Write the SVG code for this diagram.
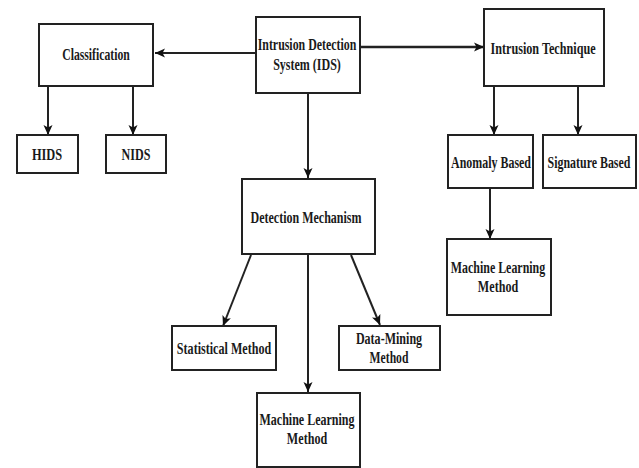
<svg xmlns="http://www.w3.org/2000/svg" width="639" height="468" viewBox="0 0 639 468">
<style>
.box{fill:#fff;stroke:#222;stroke-width:2}
.t{font-family:"Liberation Serif","Times New Roman",serif;font-weight:bold;font-size:17px;fill:#1a1a1a;text-anchor:middle;dominant-baseline:central}
.c{stroke:#222;stroke-width:2;fill:none;marker-end:url(#ah)}
</style>
<defs>
<marker id="ah" markerUnits="userSpaceOnUse" markerWidth="10" markerHeight="10" viewBox="0 0 10 10" refX="10" refY="5" orient="auto">
<path d="M0,0.5 L10,5 L0,9.5 L2.5,5 Z" fill="#111"/>
</marker>
</defs>
<rect width="639" height="468" fill="#fff"/>
<g id="connectors">
<line class="c" x1="256" y1="53" x2="155" y2="53"/>
<line class="c" x1="360" y1="47" x2="484" y2="47" style="stroke-width:2.6"/>
<line class="c" x1="48" y1="86" x2="48" y2="135"/>
<line class="c" x1="133" y1="86" x2="133" y2="135"/>
<line class="c" x1="308" y1="93" x2="308" y2="178"/>
<line class="c" x1="494" y1="86" x2="494" y2="135"/>
<line class="c" x1="578" y1="86" x2="578" y2="135"/>
<line class="c" x1="490" y1="188" x2="490" y2="239"/>
<line class="c" x1="251" y1="255" x2="223" y2="326"/>
<line class="c" x1="308" y1="255" x2="308" y2="392"/>
<line class="c" x1="351" y1="255" x2="380" y2="325"/>
</g>
<g id="ids">
<rect class="box" x="256" y="17" width="104" height="76"/>
<text class="t" transform="translate(307 44) scale(0.72 1)" textLength="137" lengthAdjust="spacingAndGlyphs">Intrusion Detection</text>
<text class="t" transform="translate(307 64) scale(0.72 1)" textLength="94" lengthAdjust="spacingAndGlyphs">System (IDS)</text>
</g>
<g id="classification">
<rect class="box" x="39" y="24" width="114" height="62"/>
<text class="t" transform="translate(96 54) scale(0.72 1)" textLength="94" lengthAdjust="spacingAndGlyphs">Classification</text>
</g>
<g id="hids">
<rect class="box" x="17" y="135" width="61" height="38"/>
<text class="t" transform="translate(47 154) scale(0.72 1)" textLength="42" lengthAdjust="spacingAndGlyphs">HIDS</text>
</g>
<g id="nids">
<rect class="box" x="106" y="135" width="60" height="38"/>
<text class="t" transform="translate(136 154) scale(0.72 1)" textLength="40" lengthAdjust="spacingAndGlyphs">NIDS</text>
</g>
<g id="technique">
<rect class="box" x="484" y="9" width="120" height="77"/>
<text class="t" transform="translate(543 48) scale(0.72 1)" textLength="146" lengthAdjust="spacingAndGlyphs">Intrusion Technique</text>
</g>
<g id="anomaly">
<rect class="box" x="448" y="135" width="85" height="53"/>
<text class="t" transform="translate(491 162) scale(0.72 1)" textLength="111" lengthAdjust="spacingAndGlyphs">Anomaly Based</text>
</g>
<g id="signature">
<rect class="box" x="543" y="135" width="93" height="53"/>
<text class="t" transform="translate(589 162) scale(0.72 1)" textLength="115" lengthAdjust="spacingAndGlyphs">Signature Based</text>
</g>
<g id="ml-anomaly">
<rect class="box" x="447" y="239" width="104" height="76"/>
<text class="t" transform="translate(498 267) scale(0.72 1)" textLength="131" lengthAdjust="spacingAndGlyphs">Machine Learning</text>
<text class="t" transform="translate(498 286) scale(0.72 1)" textLength="56" lengthAdjust="spacingAndGlyphs">Method</text>
</g>
<g id="detection">
<rect class="box" x="242" y="179" width="133" height="75"/>
<text class="t" transform="translate(306 217) scale(0.72 1)" textLength="154" lengthAdjust="spacingAndGlyphs">Detection Mechanism</text>
</g>
<g id="statistical">
<rect class="box" x="172" y="326" width="104" height="44"/>
<text class="t" transform="translate(224 348) scale(0.72 1)" textLength="131" lengthAdjust="spacingAndGlyphs">Statistical Method</text>
</g>
<g id="datamining">
<rect class="box" x="339" y="326" width="101" height="44"/>
<text class="t" transform="translate(389 338) scale(0.72 1)" textLength="92" lengthAdjust="spacingAndGlyphs">Data-Mining</text>
<text class="t" transform="translate(389 357) scale(0.72 1)" textLength="54" lengthAdjust="spacingAndGlyphs">Method</text>
</g>
<g id="ml-detection">
<rect class="box" x="257" y="393" width="103" height="74"/>
<text class="t" transform="translate(307 419) scale(0.72 1)" textLength="132" lengthAdjust="spacingAndGlyphs">Machine Learning</text>
<text class="t" transform="translate(307 438) scale(0.72 1)" textLength="56" lengthAdjust="spacingAndGlyphs">Method</text>
</g>
</svg>
